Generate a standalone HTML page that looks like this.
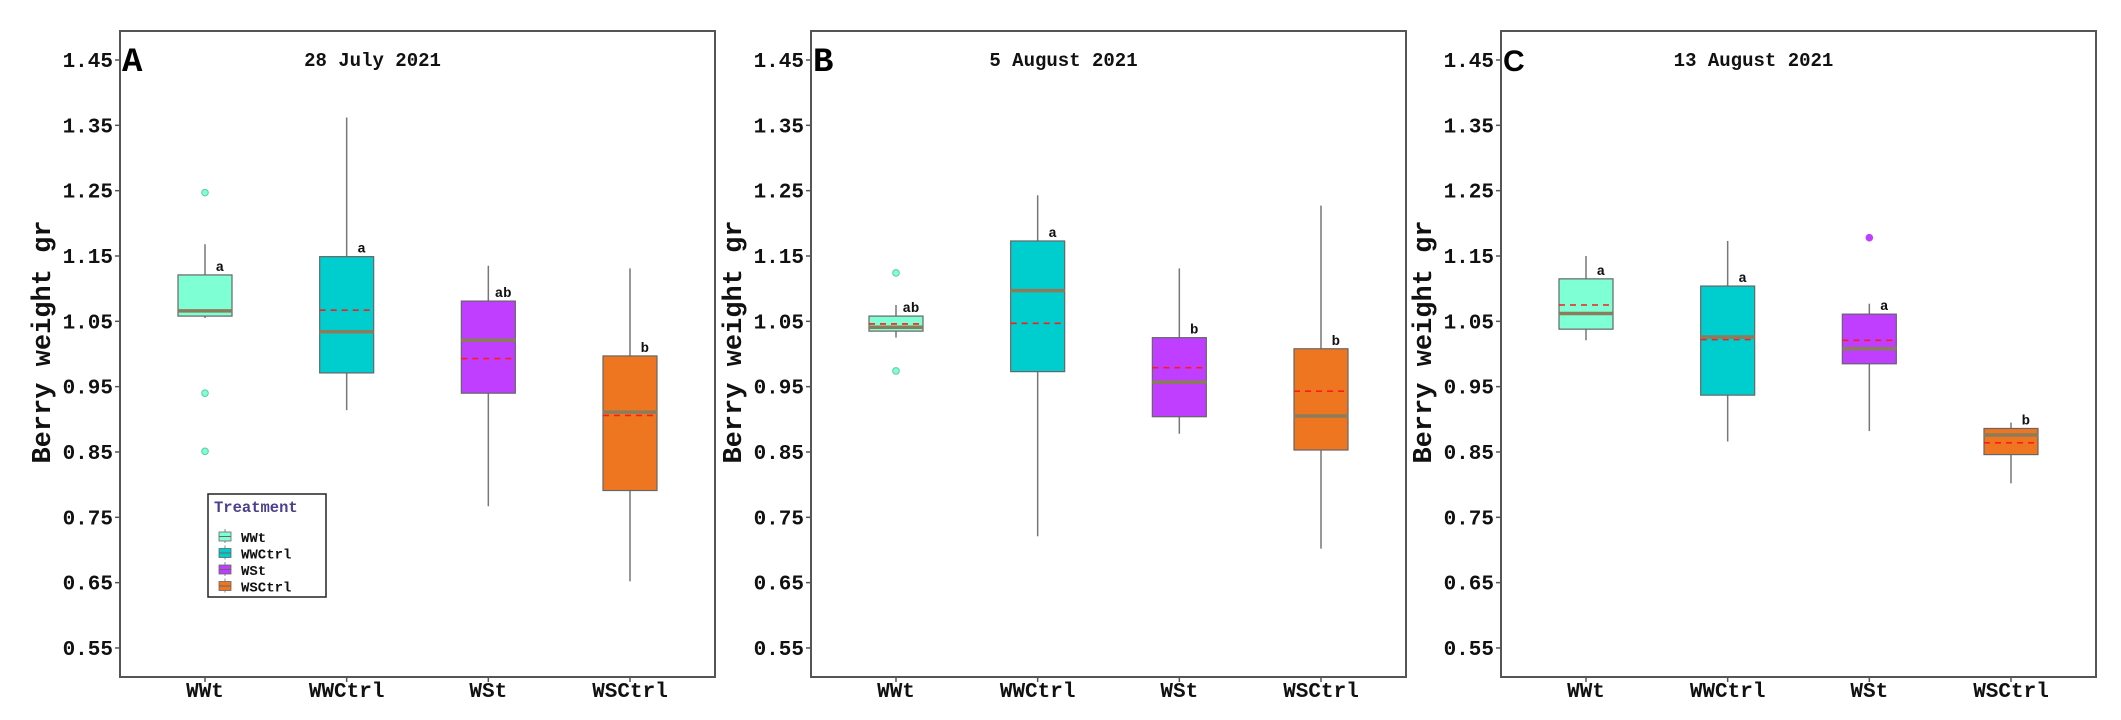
<!DOCTYPE html>
<html><head><meta charset="utf-8"><style>
html,body{margin:0;padding:0;background:#fff;width:2121px;height:720px;overflow:hidden}
svg text{font-family:"Liberation Mono",monospace;font-weight:bold}
</style></head><body>
<svg id="chart" width="2121" height="720" xmlns="http://www.w3.org/2000/svg"></svg>
<script>
const categories = ["WWt","WWCtrl","WSt","WSCtrl"];
const colors = ["#7fffd4","#00cdcd","#bf3eff","#ee7621"];
const yTicks = [0.55,0.65,0.75,0.85,0.95,1.05,1.15,1.25,1.35,1.45];
const panelTitles = ["28 July 2021","5 August 2021","13 August 2021"];
const panelLetters = ["A","B","C"];
// [lowWhisker, q1, median, q3, highWhisker, mean]
const statsA = [[1.055,1.058,1.066,1.121,1.168,1.066],[0.914,0.971,1.034,1.149,1.362,1.067],[0.767,0.940,1.021,1.081,1.135,0.993],[0.652,0.791,0.911,0.997,1.131,0.906]];
const statsB = [[1.025,1.035,1.041,1.058,1.075,1.046],[0.721,0.973,1.097,1.173,1.243,1.047],[0.878,0.904,0.957,1.025,1.131,0.979],[0.702,0.853,0.905,1.008,1.227,0.943]];
const statsC = [[1.021,1.038,1.062,1.115,1.150,1.075],[0.866,0.937,1.026,1.104,1.173,1.022],[0.882,0.985,1.008,1.061,1.077,1.021],[0.802,0.846,0.876,0.886,0.895,0.864]];
const outliersA = [[1.247,0.940,0.851],[],[],[]];
const outliersB = [[1.124,0.974],[],[],[]];
const outliersC = [[],[],[1.178],[]];
const lettersA = ["a","a","ab","b"];
const lettersB = ["ab","a","b","b"];
const lettersC = ["a","a","a","b"];
const allStats=[statsA,statsB,statsC], allOut=[outliersA,outliersB,outliersC], allLetters=[lettersA,lettersB,lettersC];

const svg=document.getElementById('chart');
const NS="http://www.w3.org/2000/svg";
function mk(tag,attrs,parent){const e=document.createElementNS(NS,tag);for(const k in attrs)e.setAttribute(k,attrs[k]);(parent||svg).appendChild(e);return e;}
const panelLeft=[120,811,1501], PW=595, TOP=31, BOT=677;
function yS(v){return 60+(1.45-v)/0.1*65.33;}
for(let p=0;p<3;p++){
  const L=panelLeft[p];
  const xS=i=>L+(i+1-0.4)/4.2*PW;
  const g=mk('g',{});
  
  
  const fr=mk('rect',{x:L,y:TOP,width:PW,height:BOT-TOP,fill:'#fff',stroke:'#555','stroke-width':2},g);
  
  yTicks.forEach(t=>{
    const y=yS(t);
    mk('line',{x1:L-5,x2:L,y1:y,y2:y,stroke:'#555','stroke-width':1.5},g);
    const tx=mk('text',{x:L-7,y:y+7,'text-anchor':'end','font-size':21,fill:'#111'},g);
    tx.textContent=t.toFixed(2);
    
  });
  const yt=mk('text',{transform:`translate(${L-70},${342}) rotate(-90)`,'text-anchor':'middle','font-size':27,fill:'#111'},g);
  yt.textContent='Berry weight gr';
  
  const pl=mk('text',{x:L+2,y:71,'font-size':p==2?30:34,fill:'#000'},g);
  pl.setAttribute('style',p==2?'font-family:"Liberation Sans",sans-serif':'font-family:"Liberation Mono",monospace');
  pl.textContent=panelLetters[p];
  
  const pt=mk('text',{x:L+PW/2-45,y:66,'text-anchor':'middle','font-size':19,fill:'#111'},g);
  pt.textContent=panelTitles[p];
  
  categories.forEach((c,i)=>{
    const x=xS(i), s=allStats[p][i], hw=27;
    mk('line',{x1:x,x2:x,y1:yS(s[0]),y2:yS(s[4]),stroke:'#777','stroke-width':1.5},g);
    const b=mk('rect',{x:x-hw,y:yS(s[3]),width:2*hw,height:yS(s[1])-yS(s[3]),fill:colors[i],stroke:'#666','stroke-width':1.2},g);
    
    mk('line',{x1:x-hw,x2:x+hw,y1:yS(s[5]),y2:yS(s[5]),stroke:'#ff1a1a','stroke-width':1.6,'stroke-dasharray':'6,5'},g);
    mk('line',{x1:x-hw,x2:x+hw,y1:yS(s[2]),y2:yS(s[2]),stroke:'#8b7d5a','stroke-width':3.5},g);
    allOut[p][i].forEach(o=>{
      const ci=mk('circle',{cx:x,cy:yS(o),r:3.3,fill:p==2?'#bf3eff':'#7fffd4',stroke:p==2?'#bf3eff':'#5cc9a8','stroke-width':1},g);
      
    });
    const lt=mk('text',{x:x+hw*0.55,y:yS(s[3])-4,'text-anchor':'middle','font-size':14,fill:'#111'},g);
    lt.textContent=allLetters[p][i];
    
    mk('line',{x1:x,x2:x,y1:BOT,y2:BOT+5,stroke:'#555','stroke-width':1.5},g);
    const xt=mk('text',{x:x,y:697,'text-anchor':'middle','font-size':21,fill:'#111'},g);
    xt.textContent=c;
    
  });
}
// legend
const lg=mk('g',{});

mk('rect',{x:208,y:494,width:118,height:103,fill:'#fff',stroke:'#222','stroke-width':1.5},lg);
const ltt=mk('text',{x:214,y:512,'font-size':15.5,fill:'#4b3f8f'},lg);
ltt.textContent='Treatment';

categories.forEach((c,i)=>{
  const y=531+i*16.5;
  mk('line',{x1:225,x2:225,y1:y-2,y2:y+12,stroke:'#888','stroke-width':1},lg);
  const k=mk('rect',{x:219,y:y+1,width:12,height:9,fill:colors[i],stroke:'#666','stroke-width':0.8},lg);
  
  mk('line',{x1:219,x2:231,y1:y+5.5,y2:y+5.5,stroke:'#666','stroke-width':1},lg);
  const t=mk('text',{x:241,y:y+11,'font-size':14,fill:'#111'},lg);
  t.textContent=c;
  
});
</script>
</body></html>
